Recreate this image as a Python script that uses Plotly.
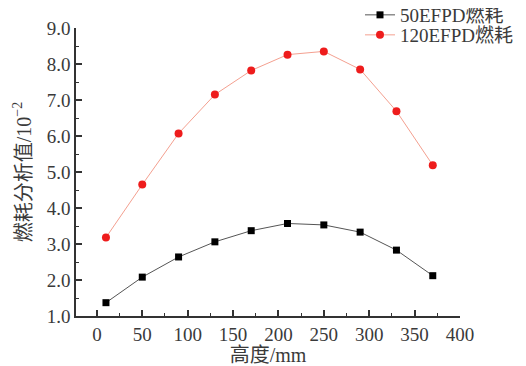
import plotly.graph_objects as go

heights = [10, 50, 90, 130, 170, 210, 250, 290, 330, 370]
burn_50 = [1.37, 2.08, 2.64, 3.06, 3.37, 3.57, 3.53, 3.33, 2.83, 2.12]
burn_120 = [3.18, 4.65, 6.07, 7.15, 7.82, 8.26, 8.35, 7.85, 6.69, 5.19]
x_ticks = [0, 50, 100, 150, 200, 250, 300, 350, 400]
y_ticks = [1, 2, 3, 4, 5, 6, 7, 8, 9]

FONT = "Liberation Serif, Noto Sans CJK SC, serif"
TXT = "#3a3a3a"
# page body has an 8px margin; figure sized to fit the window exactly
W, H = 518, 358

fig = go.Figure()
fig.add_trace(go.Scatter(
    x=heights, y=burn_50, name="50EFPD燃耗", mode="lines+markers",
    line=dict(color="#555555", width=1),
    marker=dict(symbol="square", size=7, color="#000000"),
    legend="legend",
))
fig.add_trace(go.Scatter(
    x=heights, y=burn_120, name="120EFPD燃耗", mode="lines+markers",
    line=dict(color="#f4a090", width=1),
    marker=dict(symbol="circle", size=8, color="#ee1c1c"),
    legend="legend2",
))

axis_common = dict(
    showline=True, linecolor="#333333", linewidth=1.5,
    ticks="inside", ticklen=6, tickwidth=1.5, tickcolor="#333333",
    showgrid=False, zeroline=False, mirror=False, automargin=False,
    tickfont=dict(family=FONT, size=19, color=TXT),
)

fig.update_xaxes(
    domain=[68 / W, 452 / W],
    range=[-23, 400], tickvals=x_ticks, ticktext=[str(v) for v in x_ticks],
    minor=dict(ticks="inside", ticklen=3, tickwidth=1, tickcolor="#333333", dtick=25, tick0=0),
    title=dict(text="高度/mm", font=dict(family=FONT, size=20, color=TXT), standoff=1),
    **axis_common,
)
fig.update_yaxes(
    domain=[50 / H, 338 / H],
    range=[1, 9], tickvals=y_ticks, ticktext=[f"{v:.1f}" for v in y_ticks],
    minor=dict(ticks="inside", ticklen=3, tickwidth=1, tickcolor="#333333", dtick=0.5, tick0=0),
    title=dict(text="燃耗分析值/10<sup>−2</sup>", font=dict(family=FONT, size=20, color=TXT), standoff=10),
    **axis_common,
)

leg_common = dict(
    x=352 / W, xanchor="left", yanchor="middle",
    font=dict(family=FONT, size=19, color=TXT),
    bgcolor="rgba(0,0,0,0)", itemwidth=30,
)

fig.update_layout(
    width=W, height=H,
    margin=dict(l=0, r=0, t=0, b=0, autoexpand=False),
    paper_bgcolor="white", plot_bgcolor="white",
    showlegend=True,
    legend=dict(y=1 - 7 / H, **leg_common),
    legend2=dict(y=1 - 27 / H, **leg_common),
)

fig.write_html("out.html")
